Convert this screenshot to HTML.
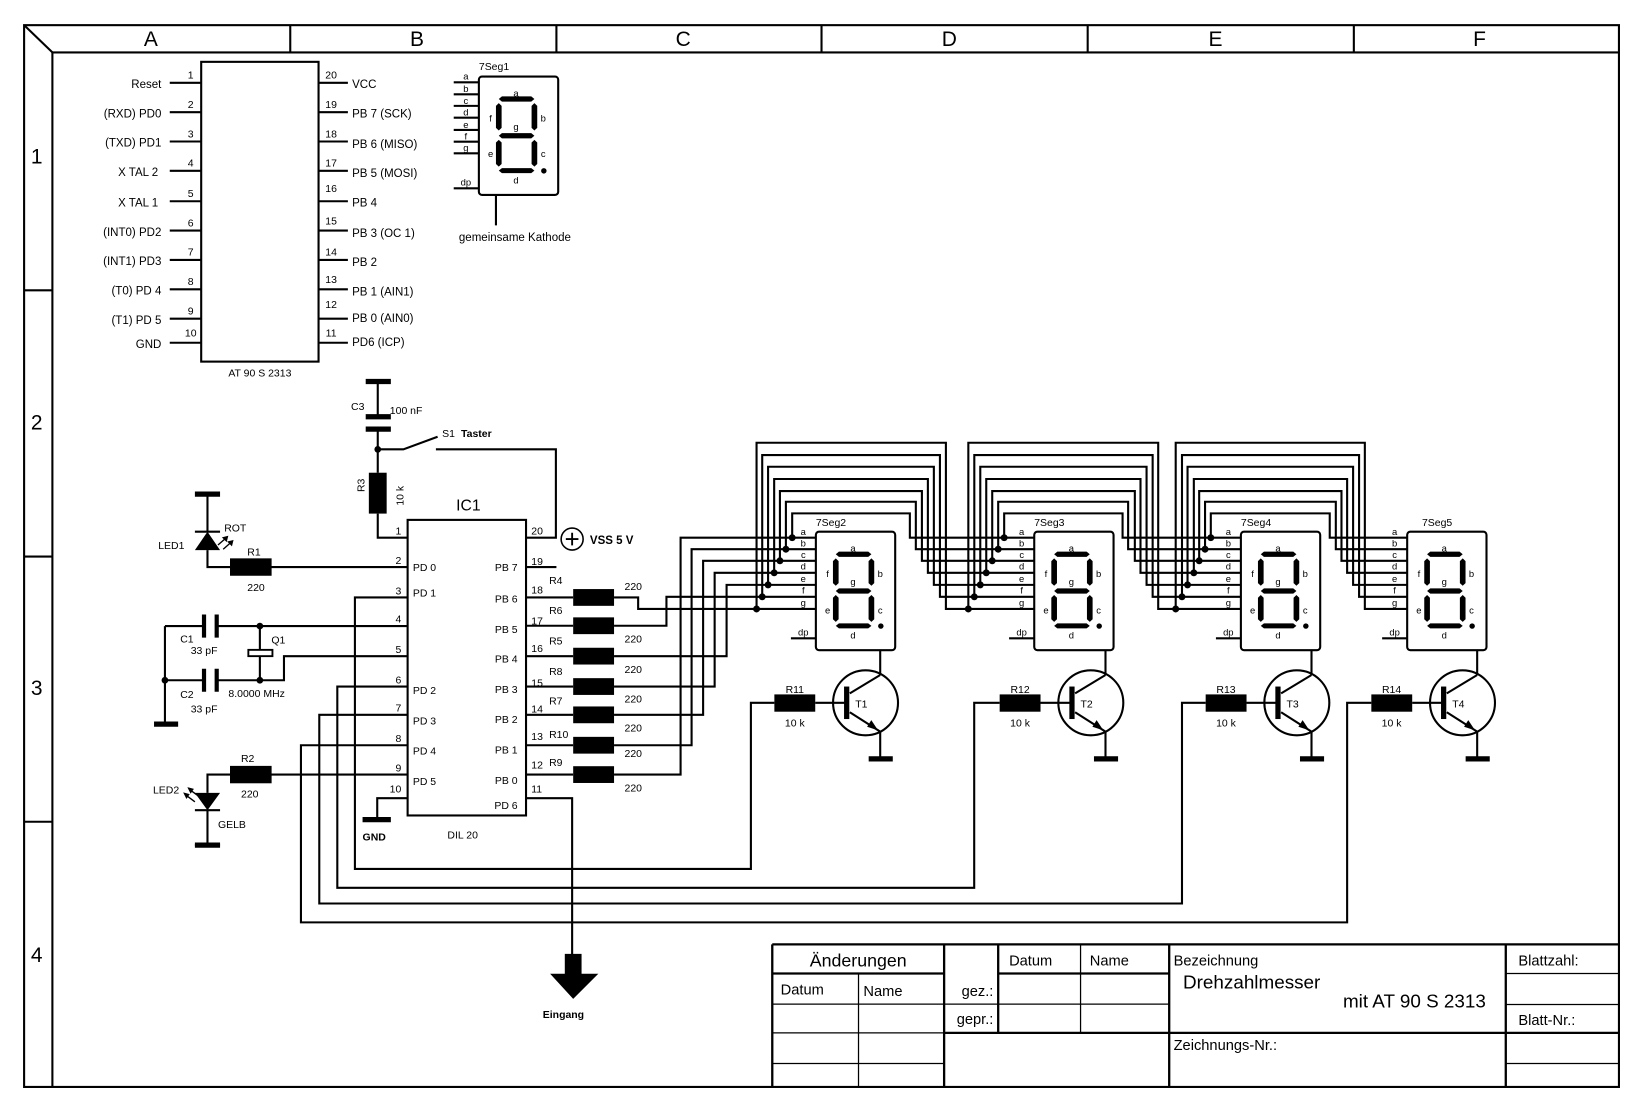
<!DOCTYPE html>
<html><head><meta charset="utf-8"><style>
html,body{margin:0;padding:0;background:#fff;}
svg{display:block;}
text{font-family:"Liberation Sans",Arial,sans-serif;fill:#000;}
</style></head><body>
<svg width="1642" height="1110" viewBox="0 0 1567 1059" preserveAspectRatio="none" xmlns="http://www.w3.org/2000/svg">
<defs>
<g id="digit">
<rect x="0" y="0" width="75.7" height="113" rx="3" fill="none" stroke="#000" stroke-width="2"/>
<polygon points="19,21.5 22,19 50,19 53,21.5 50,24 22,24" fill="#000"/>
<polygon points="19,56.5 22,54 50,54 53,56.5 50,59 22,59" fill="#000"/>
<polygon points="19,89.8 22,87.4 50,87.4 53,89.8 50,92.2 22,92.2" fill="#000"/>
<polygon points="16.3,28 19,25.4 21.7,28 21.7,49 19,51.5 16.3,49" fill="#000"/>
<polygon points="50.3,28 53,25.4 55.7,28 55.7,49 53,51.5 50.3,49" fill="#000"/>
<polygon points="16.3,63 19,60.4 21.7,63 21.7,83.5 19,86 16.3,83.5" fill="#000"/>
<polygon points="50.3,63 53,60.4 55.7,63 55.7,83.5 53,86 50.3,83.5" fill="#000"/>
<circle cx="62" cy="90" r="2.6" fill="#000"/>
</g>
<g id="tr" fill="none" stroke="#000" stroke-width="2">
<circle cx="0" cy="0" r="31"/>
<rect x="-20.5" y="-15.5" width="5" height="31" fill="#000" stroke="none"/>
<line x1="-48" y1="0" x2="-18" y2="0"/>
<line x1="-15" y1="-9" x2="14" y2="-26.5"/>
<line x1="14" y1="-26.5" x2="14" y2="-50.3"/>
<line x1="-15" y1="9" x2="14" y2="27.5"/>
<line x1="14" y1="27.5" x2="14" y2="53"/>
<rect x="3" y="51" width="23" height="5" fill="#000" stroke="none"/>
<polygon points="12,26.3 1.5,22.8 5.5,16.5" fill="#000" stroke="none"/>
<rect x="-87" y="-8" width="39" height="16.5" fill="#000" stroke="none"/>
</g>
</defs>

<g fill="none" stroke="#000" stroke-width="2">
<rect x="23" y="24" width="1522" height="1013"/>
<line x1="50" y1="50" x2="1545" y2="50"/>
<line x1="50" y1="50" x2="50" y2="1037"/>
<line x1="23" y1="24" x2="50" y2="50"/>
<line x1="277" y1="24" x2="277" y2="50"/><line x1="531" y1="24" x2="531" y2="50"/><line x1="784" y1="24" x2="784" y2="50"/><line x1="1038" y1="24" x2="1038" y2="50"/><line x1="1292" y1="24" x2="1292" y2="50"/>
<line x1="23" y1="277" x2="50" y2="277"/><line x1="23" y1="531" x2="50" y2="531"/><line x1="23" y1="784" x2="50" y2="784"/>
</g>
<g font-size="20" text-anchor="middle">
<text x="144" y="44">A</text><text x="398" y="44">B</text><text x="652" y="44">C</text><text x="906" y="44">D</text><text x="1160" y="44">E</text><text x="1412" y="44">F</text>
<text x="35" y="156">1</text><text x="35" y="410">2</text><text x="35" y="663">3</text><text x="35" y="918">4</text>
</g>

<g fill="none" stroke="#000">
<g stroke-width="2.2">
<line x1="737" y1="901" x2="1545" y2="901"/>
<line x1="737" y1="901" x2="737" y2="1037"/>
<line x1="901" y1="901" x2="901" y2="1037"/>
<line x1="952.6" y1="901" x2="952.6" y2="985.4"/>
<line x1="1115.8" y1="901" x2="1115.8" y2="1037"/>
<line x1="1437" y1="901" x2="1437" y2="1037"/>
<line x1="901" y1="985.4" x2="1545" y2="985.4"/>
<line x1="737" y1="928.8" x2="901" y2="928.8"/>
<line x1="952.6" y1="928.8" x2="1115.8" y2="928.8"/>
</g>
<g stroke-width="1.2">
<line x1="819.3" y1="928.8" x2="819.3" y2="1037"/>
<line x1="1031.2" y1="901" x2="1031.2" y2="985.4"/>
<line x1="737" y1="958" x2="1115.8" y2="958"/>
<line x1="737" y1="985.4" x2="901" y2="985.4"/>
<line x1="737" y1="1014.6" x2="901" y2="1014.6"/>
<line x1="1437" y1="928.8" x2="1545" y2="928.8"/>
<line x1="1437" y1="958.3" x2="1545" y2="958.3"/>
<line x1="1437" y1="1014.6" x2="1545" y2="1014.6"/>
</g>
</g>
<text x="819" y="922" font-size="17" text-anchor="middle">Änderungen</text>
<text x="745" y="949" font-size="14">Datum</text>
<text x="824" y="950" font-size="14">Name</text>
<text x="948" y="950" font-size="14" text-anchor="end">gez.:</text>
<text x="948" y="977" font-size="14" text-anchor="end">gepr.:</text>
<text x="963" y="921" font-size="14">Datum</text>
<text x="1040" y="921" font-size="14">Name</text>
<text x="1120" y="921" font-size="14">Bezeichnung</text>
<text x="1129" y="943" font-size="18">Drehzahlmesser</text>
<text x="1418" y="961" font-size="18" text-anchor="end">mit AT 90 S 2313</text>
<text x="1120" y="1002" font-size="14">Zeichnungs-Nr.:</text>
<text x="1449" y="921" font-size="14">Blattzahl:</text>
<text x="1449" y="978" font-size="14">Blatt-Nr.:</text>

<g fill="none" stroke="#000" stroke-width="2">
<rect x="192" y="59" width="112" height="286"/>
<path d="M162 79H192M162 107H192M162 135H192M162 163H192M162 192H192M162 220H192M162 248H192M162 276H192M162 304H192M162 327H192"/>
<path d="M304 79H332M304 107H332M304 135H332M304 163H332M304 192H332M304 220H332M304 248H332M304 276H332M304 304H332M304 327H332"/>
</g>
<g font-size="11" text-anchor="end">
<text x="154" y="84">Reset</text><text x="154" y="112">(RXD) PD0</text><text x="154" y="140">(TXD) PD1</text><text x="151" y="168">X TAL 2</text><text x="151" y="197">X TAL 1</text><text x="154" y="225">(INT0) PD2</text><text x="154" y="253">(INT1) PD3</text><text x="154" y="281">(T0) PD 4</text><text x="154" y="309">(T1) PD 5</text><text x="154" y="332">GND</text>
</g>
<g font-size="10" text-anchor="middle">
<text x="182" y="75">1</text><text x="182" y="103">2</text><text x="182" y="131">3</text><text x="182" y="159">4</text><text x="182" y="188">5</text><text x="182" y="216">6</text><text x="182" y="244">7</text><text x="182" y="272">8</text><text x="182" y="300">9</text><text x="182" y="321">10</text>
<text x="316" y="75">20</text><text x="316" y="103">19</text><text x="316" y="131">18</text><text x="316" y="159">17</text><text x="316" y="183">16</text><text x="316" y="214">15</text><text x="316" y="244">14</text><text x="316" y="270">13</text><text x="316" y="294">12</text><text x="316" y="321">11</text>
</g>
<g font-size="11">
<text x="336" y="84">VCC</text><text x="336" y="112">PB 7 (SCK)</text><text x="336" y="141">PB 6 (MISO)</text><text x="336" y="169">PB 5 (MOSI)</text><text x="336" y="197">PB 4</text><text x="336" y="226">PB 3 (OC 1)</text><text x="336" y="254">PB 2</text><text x="336" y="282">PB 1 (AIN1)</text><text x="336" y="307">PB 0 (AIN0)</text><text x="336" y="330">PD6 (ICP)</text>
</g>
<text x="248" y="359" font-size="10" text-anchor="middle">AT 90 S 2313</text>

<use href="#digit" x="457" y="73"/>
<g fill="none" stroke="#000" stroke-width="2">
<path d="M433 78.5H457M433 90H457M433 101H457M433 112.3H457M433 124H457M433 135.2H457M433 146.3H457M433 179.7H457M473.3 186V215"/>
</g>
<g font-size="9" text-anchor="middle">
<text x="444.6" y="76">a</text><text x="444.6" y="88">b</text><text x="444.6" y="99">c</text><text x="444.6" y="110">d</text><text x="444.6" y="122">e</text><text x="444.6" y="133">f</text><text x="444.6" y="144">g</text><text x="444.6" y="177">dp</text>
<text x="492.4" y="92">a</text><text x="468.2" y="116">f</text><text x="518.4" y="116">b</text><text x="492.4" y="124">g</text><text x="468.2" y="150">e</text><text x="518.4" y="150">c</text><text x="492.4" y="175">d</text>
</g>
<text x="457" y="67" font-size="10">7Seg1</text>
<text x="491.4" y="230" font-size="11" text-anchor="middle">gemeinsame Kathode</text>

<g fill="none" stroke="#000" stroke-width="2">
<rect x="389" y="496" width="113" height="282"/>
<path d="M349 364H373" stroke-width="5"/>
<path d="M360.5 364V397.6M360.5 409.4V451M360.5 490V513H389"/>
<path d="M349 397.6H373M349 409.4H373" stroke-width="5"/>
<path d="M360.5 428.7H385L417.6 416.7M416 428.7H530.5V513H502"/>
<circle cx="546" cy="514.3" r="10.5" stroke-width="1.5"/>
<path d="M540 514.3H552M546 508.3V520.3" stroke-width="1.8"/>
<path d="M502 541H531"/>
<path d="M186 471.4H210" stroke-width="5"/>
<path d="M198 471.4V507M198 524.8V541H219.5M259 541H389"/>
<path d="M186 507.3H210"/>
<path d="M259 739H389M219.5 739H198V756.4M198 773V806"/>
<path d="M186 806.3H210M186 773H210" stroke-width="2"/>
<path d="M186 806.3H210" stroke-width="5"/>
<path d="M157.4 597.3H194.7M206.8 597.3H389M157.4 649H194.7M206.8 649H271V626H389M157.4 597.3V690M248 597.3V620M248 626V649"/>
<path d="M194.7 586.3V608.3M206.8 586.3V608.3M194.7 638V660M206.8 638V660" stroke-width="4"/>
<rect x="237" y="620" width="23" height="6" stroke-width="1.8"/>
<path d="M147 690.8H170" stroke-width="5"/>
<path d="M389 761.5H360V782"/>
<path d="M346 782H373" stroke-width="5"/>
<path d="M502 761.5H546V915"/>
<path d="M389 570H338.7V829H716.6V670.5H739"/>
<path d="M389 655H321.9V847H929.7V670.5H954"/>
<path d="M389 682H304.7V862H1128V670.5H1150.6"/>
<path d="M389 711H287.2V880H1285.6V670.5H1308.7"/>
<path d="M502 570H547M586 570H609V581H778.6"/>
<path d="M502 597H547M586 597H636V569.4H778.6"/>
<path d="M502 626H547M586 626H693.4V558H778.6"/>
<path d="M502 655H547M586 655H682V546.5H778.6"/>
<path d="M502 682H547M586 682H671V535H778.6"/>
<path d="M502 711H547M586 711H660V524H778.6"/>
<path d="M502 739H547M586 739H649.5V513H778.6"/>
</g>
<g fill="#000">
<polygon points="186,524.8 210,524.8 198,507.3"/>
<polygon points="186,756.4 210,756.4 198,773"/>
<rect x="219.5" y="532.7" width="39.7" height="16.6"/>
<rect x="219.5" y="730.7" width="39.7" height="16.6"/>
<rect x="352" y="451" width="17" height="39"/>
<rect x="547" y="562" width="39" height="16"/>
<rect x="547" y="589" width="39" height="16"/>
<rect x="547" y="618" width="39" height="16"/>
<rect x="547" y="647" width="39" height="16"/>
<rect x="547" y="674" width="39" height="16"/>
<rect x="547" y="703" width="39" height="16"/>
<rect x="547" y="731" width="39" height="16"/>
<circle cx="360.5" cy="428.7" r="3.2"/>
<circle cx="248" cy="597.3" r="3.2"/>
<circle cx="248" cy="649" r="3.2"/>
<circle cx="157.4" cy="649" r="3.2"/>
<polygon points="539,910 555,910 555,929 571,929 547,953 525,929 539,929"/>
</g>
<g stroke="#000" stroke-width="1.3" fill="#000">
<path d="M208 520L216 513M213 524L221 517"/>
<polygon points="217,512 213,513 216,516"/><polygon points="222,516 218,517 221,520"/>
<path d="M190 760L182 754M186 765L178 759"/>
<polygon points="180,752 184,753 182,756"/><polygon points="176,757 180,758 178,761"/>
</g>
<g font-size="10">
<text x="335" y="391">C3</text><text x="372" y="395">100 nF</text>
<text x="422" y="417">S1</text><text x="440" y="417" font-weight="bold">Taster</text>
<text x="563" y="519" font-weight="bold" font-size="11">VSS 5 V</text>
<text x="151" y="524">LED1</text><text x="214" y="507">ROT</text>
<text x="236" y="530">R1</text><text x="236" y="564">220</text>
<text x="146" y="757">LED2</text><text x="208" y="790">GELB</text>
<text x="230" y="727">R2</text><text x="230" y="761">220</text>
<text x="172" y="613">C1</text><text x="182" y="624">33 pF</text>
<text x="172" y="666">C2</text><text x="182" y="680">33 pF</text>
<text x="259" y="614">Q1</text><text x="218" y="665">8.0000 MHz</text>
<text x="346" y="802" font-weight="bold">GND</text>
<text x="427" y="800">DIL 20</text>
<text x="518" y="971" font-weight="bold">Eingang</text>
</g>
<g font-size="10" transform="rotate(-90 344 463)"><text x="344" y="467" text-anchor="middle">R3</text></g>
<g font-size="10" transform="rotate(-90 381 473)"><text x="381" y="477" text-anchor="middle">10 k</text></g>
<text x="447" y="487" font-size="15" text-anchor="middle">IC1</text>
<g font-size="10">
<g text-anchor="end"><text x="383" y="510">1</text><text x="383" y="538">2</text><text x="383" y="567">3</text><text x="383" y="594">4</text><text x="383" y="623">5</text><text x="383" y="652">6</text><text x="383" y="679">7</text><text x="383" y="708">8</text><text x="383" y="736">9</text><text x="383" y="756">10</text></g>
<text x="394" y="545">PD 0</text><text x="394" y="569">PD 1</text><text x="394" y="662">PD 2</text><text x="394" y="691">PD 3</text><text x="394" y="720">PD 4</text><text x="394" y="749">PD 5</text>
<g text-anchor="end"><text x="494" y="545">PB 7</text><text x="494" y="575">PB 6</text><text x="494" y="604">PB 5</text><text x="494" y="632">PB 4</text><text x="494" y="661">PB 3</text><text x="494" y="690">PB 2</text><text x="494" y="719">PB 1</text><text x="494" y="748">PB 0</text><text x="494" y="772">PD 6</text></g>
<text x="507" y="510">20</text><text x="507" y="539">19</text><text x="507" y="566">18</text><text x="507" y="596">17</text><text x="507" y="622">16</text><text x="507" y="655">15</text><text x="507" y="680">14</text><text x="507" y="706">13</text><text x="507" y="733">12</text><text x="507" y="756">11</text>
<text x="524" y="557">R4</text><text x="524" y="586">R6</text><text x="524" y="615">R5</text><text x="524" y="644">R8</text><text x="524" y="672">R7</text><text x="524" y="704">R10</text><text x="524" y="731">R9</text>
<text x="596" y="563">220</text><text x="596" y="613">220</text><text x="596" y="642">220</text><text x="596" y="670">220</text><text x="596" y="698">220</text><text x="596" y="722">220</text><text x="596" y="755">220</text>
</g>

<use href="#digit" x="778.6" y="507.3"/>
<use href="#digit" x="987" y="507.3"/>
<use href="#digit" x="1184.2" y="507.3"/>
<use href="#digit" x="1342.9" y="507.3"/>
<g fill="none" stroke="#000" stroke-width="2">
<path d="M756 513V489.8H868.3V513H987"/>
<path d="M750 524V478.7H874V524H987"/>
<path d="M744.3 535V468.5H879.8V535H987"/>
<path d="M738.8 546.5V457H885.5V546.5H987"/>
<path d="M733 558V445.3H891.2V558H987"/>
<path d="M727.4 569.4V434.2H897V569.4H987"/>
<path d="M722 581V422.4H902.7V581H987"/>
<path d="M958.3 513V489.8H1071.3V513H1184.2"/>
<path d="M952.6 524V478.7H1076.6V524H1184.2"/>
<path d="M946.9 535V468.5H1083V535H1184.2"/>
<path d="M941.2 546.5V457H1088.4V546.5H1184.2"/>
<path d="M935.5 558V445.3H1094.2V558H1184.2"/>
<path d="M929.8 569.4V434.2H1100V569.4H1184.2"/>
<path d="M924.1 581V422.4H1105.3V581H1184.2"/>
<path d="M1155.5 513V489.8H1269V513H1342.9"/>
<path d="M1150 524V478.7H1274.8V524H1342.9"/>
<path d="M1144.4 535V468.5H1280.2V535H1342.9"/>
<path d="M1139.3 546.5V457H1285.6V546.5H1342.9"/>
<path d="M1133.3 558V445.3H1291.3V558H1342.9"/>
<path d="M1128 569.4V434.2H1297V569.4H1342.9"/>
<path d="M1122 581V422.4H1302.5V581H1342.9"/>
<path d="M754.8 609H778.6M963 609H987M1160.4 609H1184.2M1319 609H1342.9"/>
</g>
<g fill="#000">
<circle cx="756" cy="513" r="3.3"/><circle cx="750" cy="524" r="3.3"/><circle cx="744.3" cy="535" r="3.3"/><circle cx="738.8" cy="546.5" r="3.3"/><circle cx="733" cy="558" r="3.3"/><circle cx="727.4" cy="569.4" r="3.3"/><circle cx="722" cy="581" r="3.3"/>
<circle cx="958.3" cy="513" r="3.3"/><circle cx="952.6" cy="524" r="3.3"/><circle cx="946.9" cy="535" r="3.3"/><circle cx="941.2" cy="546.5" r="3.3"/><circle cx="935.5" cy="558" r="3.3"/><circle cx="929.8" cy="569.4" r="3.3"/><circle cx="924.1" cy="581" r="3.3"/>
<circle cx="1155.5" cy="513" r="3.3"/><circle cx="1150" cy="524" r="3.3"/><circle cx="1144.4" cy="535" r="3.3"/><circle cx="1139.3" cy="546.5" r="3.3"/><circle cx="1133.3" cy="558" r="3.3"/><circle cx="1128" cy="569.4" r="3.3"/><circle cx="1122" cy="581" r="3.3"/>
</g>
<g font-size="9" text-anchor="middle">
<g transform="translate(778.6 507.3)">
<text x="-12" y="3">a</text><text x="-12" y="14">b</text><text x="-12" y="25">c</text><text x="-12" y="36">d</text><text x="-12" y="48">e</text><text x="-12" y="59">f</text><text x="-12" y="71">g</text><text x="-12" y="99">dp</text>
<text x="35.4" y="19">a</text><text x="11.2" y="43">f</text><text x="61.4" y="43">b</text><text x="35.4" y="51">g</text><text x="11.2" y="78">e</text><text x="61.4" y="78">c</text><text x="35.4" y="102">d</text>
</g>
<g transform="translate(987 507.3)">
<text x="-12" y="3">a</text><text x="-12" y="14">b</text><text x="-12" y="25">c</text><text x="-12" y="36">d</text><text x="-12" y="48">e</text><text x="-12" y="59">f</text><text x="-12" y="71">g</text><text x="-12" y="99">dp</text>
<text x="35.4" y="19">a</text><text x="11.2" y="43">f</text><text x="61.4" y="43">b</text><text x="35.4" y="51">g</text><text x="11.2" y="78">e</text><text x="61.4" y="78">c</text><text x="35.4" y="102">d</text>
</g>
<g transform="translate(1184.2 507.3)">
<text x="-12" y="3">a</text><text x="-12" y="14">b</text><text x="-12" y="25">c</text><text x="-12" y="36">d</text><text x="-12" y="48">e</text><text x="-12" y="59">f</text><text x="-12" y="71">g</text><text x="-12" y="99">dp</text>
<text x="35.4" y="19">a</text><text x="11.2" y="43">f</text><text x="61.4" y="43">b</text><text x="35.4" y="51">g</text><text x="11.2" y="78">e</text><text x="61.4" y="78">c</text><text x="35.4" y="102">d</text>
</g>
<g transform="translate(1342.9 507.3)">
<text x="-12" y="3">a</text><text x="-12" y="14">b</text><text x="-12" y="25">c</text><text x="-12" y="36">d</text><text x="-12" y="48">e</text><text x="-12" y="59">f</text><text x="-12" y="71">g</text><text x="-12" y="99">dp</text>
<text x="35.4" y="19">a</text><text x="11.2" y="43">f</text><text x="61.4" y="43">b</text><text x="35.4" y="51">g</text><text x="11.2" y="78">e</text><text x="61.4" y="78">c</text><text x="35.4" y="102">d</text>
</g>
</g>
<g font-size="10">
<text x="778.6" y="502">7Seg2</text><text x="987" y="502">7Seg3</text><text x="1184.2" y="502">7Seg4</text><text x="1357" y="502">7Seg5</text>
</g>

<use href="#tr" x="826" y="670.5"/>
<use href="#tr" x="1041" y="670.5"/>
<use href="#tr" x="1237.6" y="670.5"/>
<use href="#tr" x="1395.7" y="670.5"/>
<g font-size="10" text-anchor="middle">
<text x="822" y="675">T1</text><text x="1037" y="675">T2</text><text x="1233.6" y="675">T3</text><text x="1391.7" y="675">T4</text>
<text x="758.5" y="661">R11</text><text x="973.5" y="661">R12</text><text x="1170" y="661">R13</text><text x="1328" y="661">R14</text>
<text x="758.5" y="693">10 k</text><text x="973.5" y="693">10 k</text><text x="1170" y="693">10 k</text><text x="1328" y="693">10 k</text>
</g>
</svg>
</body></html>
